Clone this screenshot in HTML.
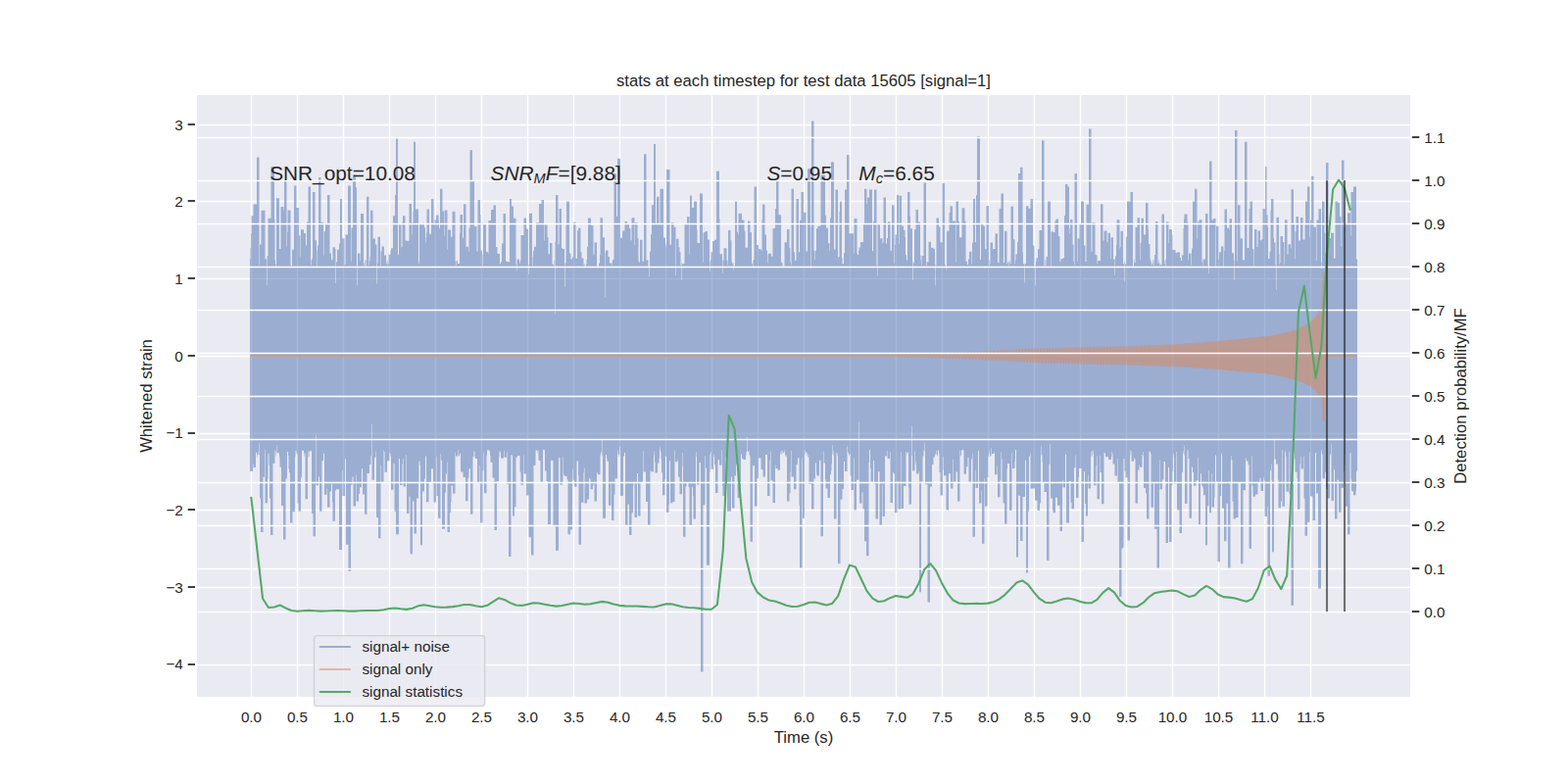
<!DOCTYPE html>
<html><head><meta charset="utf-8"><title>chart</title>
<style>html,body{margin:0;padding:0;background:#fff;font-family:"Liberation Sans",sans-serif;}
svg{display:block;position:absolute;left:0;top:0;width:1600px;height:800px;}
svg text{font-family:"Liberation Sans","DejaVu Sans",sans-serif;fill:#262626;}
.sr{position:absolute;left:0;top:0;width:1px;height:1px;overflow:hidden;clip:rect(0 0 0 0);clip-path:inset(50%);white-space:nowrap;color:transparent;font-size:1px;}</style></head>
<body>
<div class="sr"><h1>stats at each timestep for test data 15605 [signal=1]</h1>
<p>SNR_opt=10.08 &nbsp; SNR_MF=[9.88] &nbsp; S=0.95 &nbsp; M_c=6.65</p>
<p>Y axis (left): Whitened strain: -4 -3 -2 -1 0 1 2 3</p>
<p>Y axis (right): Detection probability/MF: 0.0 0.1 0.2 0.3 0.4 0.5 0.6 0.7 0.8 0.9 1.0 1.1</p>
<p>X axis: Time (s): 0.0 0.5 1.0 1.5 2.0 2.5 3.0 3.5 4.0 4.5 5.0 5.5 6.0 6.5 7.0 7.5 8.0 8.5 9.0 9.5 10.0 10.5 11.0 11.5</p>
<p>Legend: signal+ noise; signal only; signal statistics</p></div>
<svg width="1152pt" height="576pt" viewBox="0 0 1152 576" version="1.1">
 <defs>
  <style type="text/css">*{stroke-linejoin: round; stroke-linecap: butt}</style>
 </defs>
 <g id="figure_1">
  <g id="patch_1">
   <path d="M 0 576 L 1152 576 L 1152 0 L 0 0 z" style="fill: #ffffff"/>
  </g>
  <g id="axes_1">
   <g id="patch_2">
    <path d="M 144 512.64 L 1036.8 512.64 L 1036.8 69.12 L 144 69.12 z" style="fill: #eaeaf2"/>
   </g>
   <g id="matplotlib.axis_1">
    <g id="xtick_1">
     <path d="M 184.68 512.64 L 184.68 69.12" clip-path="url(#p44b01c5c57)" style="fill: none; stroke: #ffffff; stroke-linecap: round"/>
     <text x="184.68" y="530.5" font-size="11" text-anchor="middle">0.0</text>
    </g>
    <g id="xtick_2">
     <path d="M 218.52 512.64 L 218.52 69.12" clip-path="url(#p44b01c5c57)" style="fill: none; stroke: #ffffff; stroke-linecap: round"/>
     <text x="218.52" y="530.5" font-size="11" text-anchor="middle">0.5</text>
    </g>
    <g id="xtick_3">
     <path d="M 252.36 512.64 L 252.36 69.12" clip-path="url(#p44b01c5c57)" style="fill: none; stroke: #ffffff; stroke-linecap: round"/>
     <text x="252.36" y="530.5" font-size="11" text-anchor="middle">1.0</text>
    </g>
    <g id="xtick_4">
     <path d="M 286.2 512.64 L 286.2 69.12" clip-path="url(#p44b01c5c57)" style="fill: none; stroke: #ffffff; stroke-linecap: round"/>
     <text x="286.2" y="530.5" font-size="11" text-anchor="middle">1.5</text>
    </g>
    <g id="xtick_5">
     <path d="M 320.04 512.64 L 320.04 69.12" clip-path="url(#p44b01c5c57)" style="fill: none; stroke: #ffffff; stroke-linecap: round"/>
     <text x="320.04" y="530.5" font-size="11" text-anchor="middle">2.0</text>
    </g>
    <g id="xtick_6">
     <path d="M 353.88 512.64 L 353.88 69.12" clip-path="url(#p44b01c5c57)" style="fill: none; stroke: #ffffff; stroke-linecap: round"/>
     <text x="353.88" y="530.5" font-size="11" text-anchor="middle">2.5</text>
    </g>
    <g id="xtick_7">
     <path d="M 387.72 512.64 L 387.72 69.12" clip-path="url(#p44b01c5c57)" style="fill: none; stroke: #ffffff; stroke-linecap: round"/>
     <text x="387.72" y="530.5" font-size="11" text-anchor="middle">3.0</text>
    </g>
    <g id="xtick_8">
     <path d="M 421.56 512.64 L 421.56 69.12" clip-path="url(#p44b01c5c57)" style="fill: none; stroke: #ffffff; stroke-linecap: round"/>
     <text x="421.56" y="530.5" font-size="11" text-anchor="middle">3.5</text>
    </g>
    <g id="xtick_9">
     <path d="M 455.4 512.64 L 455.4 69.12" clip-path="url(#p44b01c5c57)" style="fill: none; stroke: #ffffff; stroke-linecap: round"/>
     <text x="455.4" y="530.5" font-size="11" text-anchor="middle">4.0</text>
    </g>
    <g id="xtick_10">
     <path d="M 489.24 512.64 L 489.24 69.12" clip-path="url(#p44b01c5c57)" style="fill: none; stroke: #ffffff; stroke-linecap: round"/>
     <text x="489.24" y="530.5" font-size="11" text-anchor="middle">4.5</text>
    </g>
    <g id="xtick_11">
     <path d="M 523.08 512.64 L 523.08 69.12" clip-path="url(#p44b01c5c57)" style="fill: none; stroke: #ffffff; stroke-linecap: round"/>
     <text x="523.08" y="530.5" font-size="11" text-anchor="middle">5.0</text>
    </g>
    <g id="xtick_12">
     <path d="M 556.92 512.64 L 556.92 69.12" clip-path="url(#p44b01c5c57)" style="fill: none; stroke: #ffffff; stroke-linecap: round"/>
     <text x="556.92" y="530.5" font-size="11" text-anchor="middle">5.5</text>
    </g>
    <g id="xtick_13">
     <path d="M 590.76 512.64 L 590.76 69.12" clip-path="url(#p44b01c5c57)" style="fill: none; stroke: #ffffff; stroke-linecap: round"/>
     <text x="590.76" y="530.5" font-size="11" text-anchor="middle">6.0</text>
    </g>
    <g id="xtick_14">
     <path d="M 624.6 512.64 L 624.6 69.12" clip-path="url(#p44b01c5c57)" style="fill: none; stroke: #ffffff; stroke-linecap: round"/>
     <text x="624.6" y="530.5" font-size="11" text-anchor="middle">6.5</text>
    </g>
    <g id="xtick_15">
     <path d="M 658.44 512.64 L 658.44 69.12" clip-path="url(#p44b01c5c57)" style="fill: none; stroke: #ffffff; stroke-linecap: round"/>
     <text x="658.44" y="530.5" font-size="11" text-anchor="middle">7.0</text>
    </g>
    <g id="xtick_16">
     <path d="M 692.28 512.64 L 692.28 69.12" clip-path="url(#p44b01c5c57)" style="fill: none; stroke: #ffffff; stroke-linecap: round"/>
     <text x="692.28" y="530.5" font-size="11" text-anchor="middle">7.5</text>
    </g>
    <g id="xtick_17">
     <path d="M 726.12 512.64 L 726.12 69.12" clip-path="url(#p44b01c5c57)" style="fill: none; stroke: #ffffff; stroke-linecap: round"/>
     <text x="726.12" y="530.5" font-size="11" text-anchor="middle">8.0</text>
    </g>
    <g id="xtick_18">
     <path d="M 759.96 512.64 L 759.96 69.12" clip-path="url(#p44b01c5c57)" style="fill: none; stroke: #ffffff; stroke-linecap: round"/>
     <text x="759.96" y="530.5" font-size="11" text-anchor="middle">8.5</text>
    </g>
    <g id="xtick_19">
     <path d="M 793.8 512.64 L 793.8 69.12" clip-path="url(#p44b01c5c57)" style="fill: none; stroke: #ffffff; stroke-linecap: round"/>
     <text x="793.8" y="530.5" font-size="11" text-anchor="middle">9.0</text>
    </g>
    <g id="xtick_20">
     <path d="M 827.64 512.64 L 827.64 69.12" clip-path="url(#p44b01c5c57)" style="fill: none; stroke: #ffffff; stroke-linecap: round"/>
     <text x="827.64" y="530.5" font-size="11" text-anchor="middle">9.5</text>
    </g>
    <g id="xtick_21">
     <path d="M 861.48 512.64 L 861.48 69.12" clip-path="url(#p44b01c5c57)" style="fill: none; stroke: #ffffff; stroke-linecap: round"/>
     <text x="861.48" y="530.5" font-size="11" text-anchor="middle">10.0</text>
    </g>
    <g id="xtick_22">
     <path d="M 895.32 512.64 L 895.32 69.12" clip-path="url(#p44b01c5c57)" style="fill: none; stroke: #ffffff; stroke-linecap: round"/>
     <text x="895.32" y="530.5" font-size="11" text-anchor="middle">10.5</text>
    </g>
    <g id="xtick_23">
     <path d="M 929.16 512.64 L 929.16 69.12" clip-path="url(#p44b01c5c57)" style="fill: none; stroke: #ffffff; stroke-linecap: round"/>
     <text x="929.16" y="530.5" font-size="11" text-anchor="middle">11.0</text>
    </g>
    <g id="xtick_24">
     <path d="M 963 512.64 L 963 69.12" clip-path="url(#p44b01c5c57)" style="fill: none; stroke: #ffffff; stroke-linecap: round"/>
     <text x="963" y="530.5" font-size="11" text-anchor="middle">11.5</text>
    </g>
    <g id="text_25">
     <text x="590.4" y="545.9" font-size="12" text-anchor="middle">Time (s)</text>
    </g>
   </g>
   <g id="matplotlib.axis_2">
    <g id="ytick_1">
     <path d="M 144 488.52 L 1036.8 488.52" clip-path="url(#p44b01c5c57)" style="fill: none; stroke: #ffffff; stroke-linecap: round"/>
     <g id="line2d_26">
      <defs>
       <path id="mf97215196e" d="M 0 0 L -6 0" style="stroke: #262626; stroke-width: 1.25"/>
      </defs>
      <g>
       <use href="#mf97215196e" x="144.0000" y="488.1600" style="fill: #262626; stroke: #262626; stroke-width: 1.25"/>
      </g>
     </g>
     <text x="134.5" y="492.09" font-size="11" text-anchor="end">−4</text>
    </g>
    <g id="ytick_2">
     <path d="M 144 431.64 L 1036.8 431.64" clip-path="url(#p44b01c5c57)" style="fill: none; stroke: #ffffff; stroke-linecap: round"/>
     <g><use href="#mf97215196e" x="144.0000" y="431.2800" style="fill: #262626; stroke: #262626; stroke-width: 1.25"/></g>
     <text x="134.5" y="435.42" font-size="11" text-anchor="end">−3</text>
    </g>
    <g id="ytick_3">
     <path d="M 144 374.76 L 1036.8 374.76" clip-path="url(#p44b01c5c57)" style="fill: none; stroke: #ffffff; stroke-linecap: round"/>
     <g><use href="#mf97215196e" x="144.0000" y="374.4000" style="fill: #262626; stroke: #262626; stroke-width: 1.25"/></g>
     <text x="134.5" y="378.76" font-size="11" text-anchor="end">−2</text>
    </g>
    <g id="ytick_4">
     <path d="M 144 318.6 L 1036.8 318.6" clip-path="url(#p44b01c5c57)" style="fill: none; stroke: #ffffff; stroke-linecap: round"/>
     <g><use href="#mf97215196e" x="144.0000" y="318.2400" style="fill: #262626; stroke: #262626; stroke-width: 1.25"/></g>
     <text x="134.5" y="322.1" font-size="11" text-anchor="end">−1</text>
    </g>
    <g id="ytick_5">
     <path d="M 144 261.72 L 1036.8 261.72" clip-path="url(#p44b01c5c57)" style="fill: none; stroke: #ffffff; stroke-linecap: round"/>
     <g><use href="#mf97215196e" x="144.0000" y="261.3600" style="fill: #262626; stroke: #262626; stroke-width: 1.25"/></g>
     <text x="134.5" y="265.43" font-size="11" text-anchor="end">0</text>
    </g>
    <g id="ytick_6">
     <path d="M 144 204.84 L 1036.8 204.84" clip-path="url(#p44b01c5c57)" style="fill: none; stroke: #ffffff; stroke-linecap: round"/>
     <g><use href="#mf97215196e" x="144.0000" y="204.4800" style="fill: #262626; stroke: #262626; stroke-width: 1.25"/></g>
     <text x="134.5" y="208.77" font-size="11" text-anchor="end">1</text>
    </g>
    <g id="ytick_7">
     <path d="M 144 147.96 L 1036.8 147.96" clip-path="url(#p44b01c5c57)" style="fill: none; stroke: #ffffff; stroke-linecap: round"/>
     <g><use href="#mf97215196e" x="144.0000" y="147.6000" style="fill: #262626; stroke: #262626; stroke-width: 1.25"/></g>
     <text x="134.5" y="152.1" font-size="11" text-anchor="end">2</text>
    </g>
    <g id="ytick_8">
     <path d="M 144 91.8 L 1036.8 91.8" clip-path="url(#p44b01c5c57)" style="fill: none; stroke: #ffffff; stroke-linecap: round"/>
     <g><use href="#mf97215196e" x="144.0000" y="91.4400" style="fill: #262626; stroke: #262626; stroke-width: 1.25"/></g>
     <text x="134.5" y="95.44" font-size="11" text-anchor="end">3</text>
    </g>
    <g id="text_34">
     <text font-size="12" text-anchor="middle" transform="translate(111.79 290.88) rotate(-90)">Whitened strain</text>
    </g>
   </g>
   <g id="FillBetweenPolyCollection_1">
    <defs>
     <path id="m8ecf6c62fd" d="M183.6-385.8V-229.8H183.96V-229.7H185.76V-235.3H186.12V-232.5H187.92V-243.5H188.64V-240H189V-242H189.36V-241.8H189.72V-243.7H190.08V-241.8H190.44V-250.4H190.8V-209.8H191.52V-185.1H193.32V-225.6H194.4V-245.6H194.76V-206.4H196.56V-224.2H196.92V-242.8H197.64V-234.3H198V-209.7H198.72V-182.9H200.52V-235.6H201.96V-245.3H202.32V-244.4H202.68V-240.8H203.04V-243.2H203.4V-249H203.76V-243.2H205.2V-240.1H205.56V-232.7H206.64V-204.4H208.08V-179.7H209.88V-224.1H210.6V-225H210.96V-244H211.68V-241.3H212.04V-231.6H212.4V-228.8H213.12V-191.9H214.92V-199.9H216.72V-245H217.08V-240.7H217.44V-244.8H217.8V-243.1H218.16V-242.3H218.52V-206.1H219.24V-200.4H221.04V-225.2H221.76V-244.9H223.2V-243.2H223.56V-240.6H223.92V-243H224.28V-209.3H226.08V-240.1H226.44V-244.1H226.8V-240.5H227.16V-244.7H228.96V-198.7H230.04V-182H231.84V-256.6H232.2V-219.4H234V-225.7H234.72V-200.4H236.52V-237.5H237.6V-242.8H238.32V-212.5H240.12V-217.1H240.48V-203.3H242.28V-214.9H243.36V-220.3H244.08V-207H244.44V-193.1H246.24V-215.6H246.96V-216.6H249.12V-172.1H251.28V-230.4H251.64V-211.6H253.44V-238.8H254.16V-175.8H255.96V-156.5H257.76V-219.7H258.84V-225.7H259.56V-204.2H261.36V-227.1H261.72V-207.8H263.52V-213.2H264.24V-218H265.68V-231.9H266.4V-212.7H267.84V-198.2H269.64V-228.2H271.44V-234.7H272.52V-241.1H272.88V-264.3H273.24V-223.4H275.04V-239.7H276.12V-244.4H276.48V-195.9H277.92V-180.6H279.72V-234.1H280.08V-221.9H281.88V-245.1H282.24V-244.1H282.6V-229.2H284.4V-237.5H286.2V-243.2H286.56V-242.5H286.92V-240.7H287.28V-216.2H289.08V-235.5H289.8V-200.4H290.88V-183.4H293.04V-239H293.76V-219.6H295.56V-235.2H295.92V-239H296.28V-218.5H298.08V-221.1H298.44V-241.9H298.8V-198.7H300.6V-211.3H301.32V-169H303.12V-207.7H304.2V-184H306V-209.9H307.44V-221.8H307.8V-237.3H308.52V-234H308.88V-175.5H310.32V-214.9H311.76V-224.3H312.48V-240.5H312.84V-241.3H313.2V-207.1H315V-221.4H316.8V-231.5H318.24V-219.9H318.6V-207H320.4V-240.7H320.76V-211.6H321.84V-195.3H323.64V-242.6H324V-237.8H324.72V-187.4H326.88V-214.2H327.6V-227.9H328.32V-236.3H328.68V-185.1H330.48V-199.4H331.2V-207.2H331.56V-219.3H332.64V-213.5H334.44V-243.8H334.8V-241.2H335.16V-240.9H335.52V-240H335.88V-240.9H336.24V-245.3H336.6V-241.5H336.96V-241H337.32V-240.7H337.68V-242.8H338.4V-229.4H340.2V-225.3H342V-207.9H343.8V-224.9H344.52V-231.5H345.24V-231.9H345.6V-198.2H347.4V-240.5H347.76V-244.7H348.12V-240.2H348.48V-240H348.84V-244.1H349.2V-239.1H350.64V-220.9H352.44V-234H352.8V-191.9H354.6V-230.4H355.32V-243.6H355.68V-213.7H357.48V-241.4H357.84V-245.3H359.28V-244.4H359.64V-245.1H360V-241.5H360.36V-236.3H361.8V-225H363.24V-186.5H365.04V-222.4H366.48V-244.5H366.84V-240.2H367.2V-243.4H367.56V-244.6H367.92V-239.4H369.72V-239.5H370.08V-245H370.44V-239.9H372.24V-244H372.6V-220.1H373.68V-167H375.48V-241.9H376.2V-241.1H376.56V-197H378V-203.6H379.08V-239.9H380.16V-241.2H381.96V-229.3H382.68V-219.8H384.48V-241.6H384.84V-227.9H386.64V-212.1H388.44V-181.2H390.24V-168.1H392.04V-234H393.48V-245.1H394.92V-243H395.28V-244.9H395.64V-237.6H397.08V-221.9H398.88V-245.5H400.32V-230H401.4V-222.5H402.48V-190.8H404.64V-237.7H406.44V-189.1H408.24V-171.5H410.4V-239.6H411.48V-219.8H413.28V-221.3H413.64V-240.3H414V-227.2H414.72V-226.2H415.08V-226H416.52V-223.7H417.24V-183.4H419.04V-186.8H420.48V-231.7H420.84V-223.5H421.2V-222.8H421.92V-218.4H423.72V-237.3H424.8V-226.8H425.16V-175.8H426.96V-206.8H428.76V-229.1H429.12V-232.2H429.48V-206.2H431.28V-209.1H432.72V-224.4H433.8V-216.6H435.6V-219.6H435.96V-220.4H436.68V-207.8H438.48V-228.6H439.2V-227.4H441V-241.6H441.36V-243.1H441.72V-244.1H442.08V-240.7H442.44V-252.7H442.8V-195.3H444.96V-242H445.68V-239.2H446.04V-237.1H447.12V-204.7H448.92V-220.8H449.28V-193.6H451.08V-212.5H451.8V-224.5H453.6V-242.5H453.96V-245.2H454.32V-242.3H454.68V-240.3H455.04V-247.9H455.4V-241.7H455.76V-211.6H457.56V-212.1H457.92V-240.5H458.28V-241H458.64V-243.1H459V-243.6H459.36V-190.2H461.16V-205.5H462.24V-182.9H464.04V-199.2H465.12V-219.5H465.48V-221.7H466.2V-195.9H468V-228.3H468.72V-197H470.52V-221H472.32V-244.6H472.68V-229.3H474.48V-207.3H475.92V-190.2H477.72V-230.1H478.44V-229.5H480.24V-241.3H480.6V-244.2H480.96V-236.7H481.32V-228.6H483.12V-235.8H484.2V-239.4H484.56V-245.6H484.92V-248.1H485.28V-244.3H485.64V-238.7H486V-228.7H486.72V-212.2H488.52V-223.7H488.88V-240.9H489.24V-240.4H489.6V-199.4H491.4V-205.2H491.76V-237.4H492.48V-206.5H494.28V-207.3H495.72V-245H496.08V-236.7H497.88V-238.4H498.24V-225.6H499.32V-213H501.12V-233H501.48V-243.4H501.84V-181.7H503.64V-218.6H504.36V-221.8H505.8V-218.2H506.52V-189.7H508.32V-218H509.04V-211.6H509.4V-194.8H511.2V-243.7H511.56V-240.4H511.92V-220H513.72V-236.2H514.8V-82.4H516.6V-205H518.04V-240.9H518.4V-232H519.12V-160.7H521.28V-229.2H521.64V-242.2H522V-244.2H522.36V-231.3H524.16V-242.1H524.52V-240.5H524.88V-234.5H525.6V-213.9H527.4V-238.2H528.48V-234.1H530.28V-245.3H530.64V-219H531V-211.7H532.8V-240.3H533.16V-221.1H534.24V-200.4H537.12V-225.7H537.84V-202.7H539.64V-226.5H540.72V-234.9H541.44V-238H541.8V-210.3H543.6V-213.2H544.32V-242.2H545.04V-239.2H546.12V-238.3H547.92V-241.3H548.28V-244.3H548.64V-255H549V-244.6H549.36V-244.1H550.08V-244.8H550.44V-241.8H550.8V-240.8H551.16V-178H552.96V-233.8H554.4V-204.1H556.2V-224.6H557.28V-239.4H559.08V-231.2H560.52V-225.7H562.32V-241.9H563.76V-211.7H565.56V-237.7H565.92V-244.5H566.28V-223H567.72V-206.6H569.52V-234.4H569.88V-231.9H571.32V-230.6H573.12V-243.9H573.48V-242H573.84V-245H574.2V-242.3H574.56V-242.8H574.92V-245H575.28V-243.1H575.64V-243.5H576V-245.2H576.36V-243.8H576.72V-242H577.08V-240.7H577.44V-240.2H577.8V-241.4H578.16V-207.8H579.96V-213.7H580.68V-229.2H581.04V-244.8H581.4V-225.7H583.2V-216.5H585V-234.5H585.72V-235.1H586.08V-239.5H587.16V-204.7H587.52V-158.7H589.32V-239.4H589.68V-195.3H591.12V-241.9H591.48V-245.1H591.84V-243.9H592.2V-243.2H592.56V-241.1H592.92V-243.6H593.28V-242.1H593.64V-240H594V-240.3H594.36V-220.3H596.16V-202H597.96V-224.3H599.04V-236H599.76V-227.7H600.12V-226.5H601.92V-237.8H603V-182H604.8V-244.4H605.16V-235.8H606.24V-224H606.6V-217.1H608.04V-210.2H609.84V-227.3H610.56V-230.1H610.92V-235.2H611.28V-248.9H611.64V-242.3H612V-241.4H612.36V-244.4H612.72V-194.8H614.52V-243.4H614.88V-243H615.24V-241.2H615.6V-161.9H617.4V-209.2H618.84V-216.8H619.92V-236.9H620.64V-229.7H622.44V-248.3H622.8V-243.6H623.16V-243.5H623.52V-240.8H623.88V-241.9H624.24V-242.6H624.6V-226.5H625.32V-216H627.12V-239.4H627.48V-201.2H629.28V-223.4H631.08V-266H631.44V-206.2H633.24V-214.4H633.96V-202.1H635.04V-178.3H636.48V-167.5H638.28V-236.2H638.64V-245.6H639.36V-231.9H639.72V-222H641.52V-237.8H642.24V-220.5H643.32V-194.8H645.12V-229.5H646.2V-190.2H648V-219.7H648.36V-196.5H650.16V-240.9H651.6V-244.7H651.96V-239.1H653.76V-243.7H654.12V-206.6H655.92V-228.8H656.64V-227.8H657.36V-199.3H659.16V-222.5H659.88V-202H661.68V-243.7H662.04V-202.3H663.84V-218.9H665.64V-244.1H666V-241.7H666.36V-243.5H667.44V-217.9H667.8V-205.6H669.6V-241H669.96V-263.2H670.32V-230.3H672.12V-244.4H672.48V-237H672.84V-234.3H673.2V-227.8H675V-229.9H675.36V-140.9H676.8V-222.2H677.88V-240.9H678.24V-245.1H678.6V-240.8H678.96V-250.6H679.32V-244.5H679.68V-220.2H681.48V-133.5H683.28V-218.4H684.72V-234.8H685.8V-240.2H686.88V-241.5H687.24V-242.9H687.6V-245.2H687.96V-242.1H688.32V-240.9H688.68V-241.5H689.04V-245.3H689.76V-242.7H690.12V-229H690.84V-212H692.64V-240.4H693V-230.9H693.36V-226.6H695.16V-201.3H696.96V-228H698.4V-217.1H700.2V-238.5H700.56V-222.2H702.36V-229.3H703.44V-207.8H705.24V-245.4H705.6V-241.8H705.96V-240.7H706.32V-245.4H708.12V-227.7H709.92V-233.1H711V-239.7H711.72V-222H713.52V-238.6H714.24V-242.8H714.6V-181.7H716.4V-230.8H716.76V-217.5H718.56V-244.6H718.92V-245H719.28V-206.2H721.08V-215.6H721.44V-176.6H723.24V-224.4H723.6V-204.2H725.4V-225.4H726.12V-240.7H726.48V-242.5H726.84V-245.4H727.2V-240.5H727.56V-240.9H727.92V-246.6H728.28V-241.2H728.64V-242.6H730.44V-243.9H730.8V-227.3H732.6V-233.5H732.96V-210.8H734.76V-223H735.48V-243.7H735.84V-238.8H736.2V-220.7H736.92V-206.4H738V-191.1H739.8V-231.7H740.16V-235.4H741.6V-200.8H743.4V-243.4H743.76V-231.9H745.56V-237.1H745.92V-245.5H746.64V-166.7H748.08V-211.8H749.52V-178.6H751.32V-211H753.12V-237.7H753.84V-155.1H755.28V-200.3H756V-240.7H756.72V-243H757.08V-217.1H758.52V-217H760.32V-208.5H762.12V-200.8H763.92V-206.3H764.64V-248.4H765V-241.8H765.72V-236.6H766.08V-221H767.16V-214.5H768.96V-164.1H770.76V-235H771.48V-249.8H771.84V-209.9H773.28V-201.1H773.64V-199.3H775.44V-210.4H776.88V-204.6H778.68V-185.7H780.48V-223.3H780.84V-217.8H782.64V-242.2H783V-241.9H783.36V-191.9H785.52V-222.6H786.6V-206.8H787.32V-202.1H789.12V-232.3H790.2V-241.5H790.56V-210.2H792.36V-225.4H792.72V-231.9H794.52V-177.8H796.32V-229.6H797.04V-206H797.76V-197H799.2V-226.9H799.56V-217.1H801.36V-243.9H801.72V-240.8H802.08V-240.9H802.44V-245.1H802.8V-242.2H803.16V-244.8H803.52V-219.5H805.32V-234.1H805.68V-240.8H806.04V-209.4H807.84V-241.3H808.2V-228.9H809.28V-205.7H811.08V-243.5H811.44V-243H812.16V-240.3H813.96V-240.9H814.32V-238.4H816.12V-238.5H816.48V-240.5H816.84V-244.1H817.2V-242.9H817.56V-235H819V-226.4H820.8V-239.1H821.16V-221.6H822.24V-137.5H824.04V-173.2H825.12V-173.9H825.48V-239.1H826.2V-229.9H826.92V-225.1H828.36V-178.9H830.16V-241.3H830.52V-245.3H830.88V-244.4H831.24V-237H833.04V-239.6H833.4V-238.6H834.12V-206.3H835.92V-230.5H837V-234.6H837.36V-232.8H839.16V-242H839.52V-244H839.88V-240.9H840.24V-217.4H841.68V-213.5H842.4V-194.8H844.2V-244.2H844.92V-244.3H845.28V-242.8H845.64V-203.2H847.44V-221H848.16V-187.4H849.96V-158.5H851.76V-238H852.12V-216.5H853.92V-223.5H855V-236.9H856.08V-222.1H856.44V-177.2H858.24V-232.6H858.96V-177.8H860.76V-219.5H861.48V-229.9H861.84V-240.6H862.2V-242.8H862.56V-220.6H864.36V-244.3H864.72V-201.2H866.52V-184.3H868.32V-228.9H869.04V-242.9H869.4V-244.8H869.76V-248.6H870.12V-241.5H870.48V-205.9H872.28V-245.3H873V-239H873.72V-195.3H875.52V-233H876.24V-229H876.96V-219H878.76V-223H880.2V-240H880.56V-190.8H882V-228H882.72V-219.5H883.44V-218H884.16V-212.2H885.6V-175.5H887.04V-204.3H888.12V-230.6H888.48V-199.3H889.92V-228.1H890.28V-203.4H892.08V-210.2H892.44V-220.5H892.8V-242H893.16V-241.1H893.52V-222.2H894.6V-163.3H896.4V-211.7H897.12V-241.7H897.48V-243.4H897.84V-202.6H899.28V-178.3H901.08V-206.1H902.16V-158.5H903.96V-222.1H904.32V-241H904.68V-237.9H905.4V-207.5H906.12V-194.8H907.92V-195.9H909.72V-221.2H911.52V-161.9H913.32V-215.8H915.12V-239.7H915.48V-237.2H916.92V-234.5H917.64V-172.9H919.44V-241.1H919.8V-219.1H920.52V-211.1H922.32V-212.7H924.12V-221.3H925.56V-224.9H926.28V-215.2H928.08V-225.1H928.44V-222.8H929.16V-196.5H930.96V-203.8H931.32V-152.8H933.12V-230.3H933.84V-234.9H934.2V-222.9H934.56V-170.4H936V-253.6H936.36V-238.6H937.44V-235H938.88V-223.6H939.24V-202.8H941.04V-207.7H941.76V-245.4H942.12V-204H943.92V-243.4H944.28V-245.2H944.64V-240.7H945V-214.7H946.8V-244.2H947.16V-212.9H948.6V-131.2H950.4V-242.9H950.76V-245.1H951.12V-238.9H951.48V-229.3H952.92V-225H953.28V-201.7H955.08V-235.3H955.44V-240.7H955.8V-231.5H957.6V-240.7H957.96V-209.7H958.68V-182.3H960.48V-192.5H962.28V-243.7H962.64V-211.3H964.44V-193.6H966.24V-243.1H966.6V-243.3H966.96V-213.5H968.4V-143.7H970.56V-245.3H970.92V-243.5H971.28V-242H971.64V-224.4H973.44V-229.2H974.16V-216.7H975.24V-209.8H977.04V-241.3H977.4V-242.5H977.76V-249.6H978.12V-208.1H979.92V-230.9H980.64V-194.8H982.44V-223.4H983.52V-199.6H985.32V-217.6H987.12V-229.5H987.84V-234.5H988.2V-242.2H988.56V-203.9H990V-183.4H991.8V-243H992.52V-223.8H992.88V-215.3H993.6V-214.9H994.32V-212.2H996.12V-215.9H996.48V-229.8H997.2V-385.6H996.48V-438.9H994.32V-434.9H992.52V-402.8H992.16V-419.6H990V-411.5H988.2V-409.2H987.48V-458.2H985.68V-395H985.32V-416.9H984.24V-427H982.8V-428.1H981V-386.1H979.92V-404.9H977.76V-401.1H975.96V-456.5H974.16V-390.4H973.8V-404.9H973.08V-428.1H971.28V-383.6H970.92V-378.6H970.56V-422.5H968.76V-414.3H967.32V-384.5H966.96V-409.1H965.16V-446.6H963.36V-414.3H962.64V-401.5H962.28V-438.9H960.48V-428.1H959.04V-410.6H958.68V-400H957.24V-416.2H955.44V-399.3H954V-416.8H952.2V-406.1H951.48V-385.8H951.12V-412.1H950.4V-436.9H948.6V-393.5H948.24V-396.5H946.44V-389.2H945.72V-414.6H943.92V-381.5H943.56V-398.2H942.48V-402.4H940.68V-383.1H940.32V-382H939.96V-389.6H939.6V-416.4H937.8V-363H937.44V-381.4H937.08V-397.8H936V-401.2H935.64V-429.8H933.84V-421.3H933.48V-391.1H932.76V-385.9H931.68V-409.4H931.32V-418.2H930.6V-453.6H929.52V-422.7H927.72V-400.3H927V-399.4H925.92V-406.5H924.12V-394.5H923.4V-407.5H921.6V-379.5H921.24V-393H920.16V-428.1H918.36V-422.6H917.64V-393.9H916.2V-471.8H914.4V-385.1H912.96V-400.8H911.16V-425.4H909.36V-384.2H909V-480.3H907.2V-370.4H906.84V-384.7H906.48V-390H905.04V-415.3H903.24V-407.1H902.88V-408.5H901.44V-422.2H899.64V-391.6H899.28V-379.1H898.92V-394.9H897.12V-390.8H895.68V-385.4H895.32V-409.8H893.52V-380.4H893.16V-415.5H891.36V-414.3H890.28V-457.6H888.48V-380.1H888.12V-375H887.76V-381H887.4V-419H885.6V-385.5H883.8V-381H883.44V-383.8H883.08V-414.5H880.92V-412.9H879.84V-400.1H879.48V-437.2H877.68V-428.1H876.24V-393.4H875.52V-381H875.16V-389.9H873.36V-385.2H873V-412.8H872.28V-418.6H870.12V-415.1H869.76V-408.2H869.4V-388.7H868.32V-384.5H867.6V-386.7H866.88V-390.8H865.08V-390.2H863.64V-392.4H861.48V-403.4H861.12V-406.5H860.76V-407.6H858.96V-397.4H858.6V-412.9H856.8V-385.6H856.44V-380H856.08V-384.4H855.72V-382.2H855.36V-418.7H853.56V-381.3H853.2V-381.9H852.84V-381.3H852.48V-382.8H852.12V-380.7H851.76V-384.9H851.4V-382.6H850.68V-413.3H848.88V-388.8H848.16V-380.7H847.8V-385.4H847.44V-382.7H847.08V-384.9H846.72V-381.7H846.36V-381.4H846V-384.5H845.64V-383.1H845.28V-385.8H844.92V-396.8H843.84V-407.9H843.48V-427H841.68V-403.6H840.24V-415.7H838.44V-397.7H837.72V-385H837.36V-415.9H835.56V-408.9H834.12V-383.1H833.76V-382.8H833.4V-385.3H833.04V-380.1H832.32V-434.9H830.52V-428.1H828V-402.1H827.28V-382.4H826.92V-381.8H826.56V-369.2H826.2V-383.8H825.84V-382.1H825.48V-382.3H825.12V-406.3H823.32V-394.3H822.96V-393.5H822.6V-414.6H820.44V-396.1H820.08V-387.8H819.36V-373.7H819V-385.5H817.92V-401.5H816.12V-385.7H815.76V-404.9H813.96V-398H813.24V-406.5H811.08V-399.2H810.36V-426.1H808.56V-384.5H806.76V-384.1H806.4V-382.2H806.04V-388.7H805.68V-388.8H804.6V-412.5H802.44V-391.2H801.72V-481.4H799.92V-425.7H798.12V-383.8H797.4V-395.7H796.32V-428.1H794.16V-411.5H793.08V-400.8H791.64V-384H791.28V-448.5H789.48V-381.4H789.12V-383.8H788.76V-396.4H788.04V-414.7H786.24V-404.2H785.88V-408.5H785.52V-438.9H784.44V-440.6H782.64V-417.5H781.92V-386.6H781.2V-386H779.4V-383.7H778.68V-402.5H777.6V-415.1H775.8V-413.8H775.08V-405.3H774V-405.9H772.2V-380.3H771.84V-428.1H769.68V-387.3H768.6V-380.7H768.24V-385.1H767.88V-380.8H767.52V-380.1H767.16V-472.9H765.36V-406.8H763.56V-392.9H762.48V-386.5H761.4V-383.9H761.04V-381.2H760.68V-366.1H760.32V-380.3H759.96V-395.1H759.6V-395.9H758.88V-429.8H757.08V-422.9H755.64V-424.7H753.84V-382.2H752.76V-368.2H752.4V-382.2H751.68V-390.6H751.32V-453.1H749.52V-448.5H748.08V-398.2H747.36V-389.4H746.28V-384.9H745.92V-382H745.56V-400.2H744.48V-424.5H742.68V-382.1H742.32V-382.6H741.96V-384.6H741.6V-384.2H741.24V-380.5H740.88V-382.8H740.52V-383.5H740.16V-381.7H739.8V-406.3H738V-383H737.28V-433.8H735.48V-422.9H734.04V-383H732.96V-404.2H731.16V-393.2H729.72V-393H729.36V-397.8H727.56V-382.2H727.2V-380.5H726.84V-385.1H726.48V-424.8H724.68V-393.2H723.6V-409.9H722.52V-411.6H720.72V-385.2H720V-475.8H717.84V-432.7H717.12V-397.9H716.4V-429.8H714.96V-397.7H714.24V-382H713.88V-391.2H712.08V-385.7H711.36V-381.6H710.64V-384H709.56V-413.6H708.84V-423.2H706.68V-401.6H704.88V-413.1H704.16V-428.1H702.36V-383.3H702V-413.7H699.84V-424.6H698.04V-419.7H697.32V-406.2H695.52V-380.3H695.16V-377.7H694.8V-380.9H694.44V-382H694.08V-441.4H692.28V-397.9H690.84V-409.4H689.76V-415.8H687.96V-381H687.6V-366.3H687.24V-381.8H686.88V-393.1H685.8V-393.8H685.44V-394H684V-398.4H682.2V-383.5H680.76V-380.8H680.4V-441.7H678.6V-388H677.16V-381.1H676.8V-385.1H676.44V-388.7H676.08V-413H674.64V-421.9H672.84V-407.4H671.76V-382.5H671.4V-383H671.04V-370.4H670.68V-383.8H670.32V-408H668.88V-417.1H668.52V-434.9H666.72V-384.8H666V-388.8H665.28V-401.8H664.92V-406.9H663.84V-410.1H662.4V-432.1H660.6V-396.8H660.24V-432.7H658.8V-403.8H657.72V-396H657.36V-382.5H657V-425.2H655.2V-391.8H654.12V-413.1H652.32V-401H651.6V-397.1H650.88V-430.9H649.08V-397.6H648.36V-400.8H646.56V-411.4H644.76V-373.3H644.4V-381.3H644.04V-436.6H642.24V-413.5H641.52V-391.7H640.8V-436.6H638.64V-430.9H637.2V-426.1H636.84V-437.2H635.04V-411.4H634.32V-398.2H632.16V-394.2H631.08V-391.7H630.72V-388.8H630V-389.7H629.64V-415.4H627.48V-389.9H627.12V-404.5H624.96V-404.4H623.88V-462.2H622.08V-436.6H620.64V-390H619.92V-382.1H618.84V-386.2H618.48V-428.1H617.04V-420.4H616.68V-387.2H615.6V-436.6H613.8V-392.7H612.72V-457H610.56V-416H609.84V-391.7H609.48V-397.4H608.4V-408.4H606.96V-417.8H606.24V-447.4H603V-409.8H600.84V-408.1H599.76V-391.8H598.68V-385.2H598.32V-391.7H597.96V-487.1H596.16V-378.5H595.8V-409.4H595.44V-451.9H593.28V-391.3H592.2V-419.9H590.4V-434.9H588.6V-414.2H587.52V-390.7H586.8V-429.8H585V-384.7H583.92V-390.7H583.2V-437.2H581.4V-381.3H581.04V-383.4H580.68V-393.6H579.96V-407.6H578.16V-397.9H576.36V-380.3H574.92V-383.1H574.56V-382.9H574.2V-384H573.84V-418.1H572.04V-442.9H570.24V-422.7H569.52V-408.2H567.72V-387.7H566.64V-389.7H564.48V-388.6H564.12V-382.7H563.76V-392H563.04V-403.6H561.96V-425.9H560.16V-414.4H559.8V-391.8H559.08V-393.2H557.28V-396H555.84V-438.9H554.04V-385.3H553.68V-380H553.32V-384.6H552.96V-382.6H552.6V-382.2H552.24V-405.4H551.16V-413.6H549.36V-394.1H547.56V-406.5H546.84V-414.4H545.04V-419.3H543.24V-419H542.52V-403.6H542.16V-405.6H541.44V-428.1H540V-380.8H539.28V-377.6H538.92V-382.7H538.56V-381.7H538.2V-382.9H537.84V-384H537.48V-399.4H536.76V-406.8H534.96V-384.8H534.6V-381.2H534.24V-384.6H533.88V-393.6H531.72V-384.9H531V-375.3H530.64V-389.4H528.84V-415.2H528.48V-450.2H526.32V-399.7H524.88V-398.9H523.44V-390.7H522.36V-385.2H522V-376.6H521.64V-383.8H521.28V-400H519.84V-406H518.04V-405.1H516.6V-383.3H516.24V-433.8H514.08V-397.4H512.28V-407.4H511.92V-428.1H509.76V-423.3H508.32V-432.1H506.88V-389.2H506.52V-416.9H504.72V-411.2H502.92V-382.1H501.48V-381.9H501.12V-370.2H500.76V-383.3H500.4V-381.1H500.04V-391H499.32V-394.3H498.6V-400.5H496.8V-373.6H496.44V-409.3H495V-412.5H493.2V-396.1H492.12V-451.4H489.6V-394.7H489.24V-397.1H488.88V-401.4H487.44V-437.2H484.92V-411.8H484.2V-431.5H482.4V-411.1H481.68V-470.1H480.24V-425.3H478.8V-403.7H478.08V-391.2H477.36V-372.6H477V-380.1H476.64V-379.9H476.28V-384.8H474.84V-462.7H473.04V-384.1H471.96V-399.7H470.16V-383.8H469.8V-382.8H469.44V-384.1H469.08V-401.1H468.36V-412.6H466.56V-396.1H466.2V-415.9H464.04V-399.4H463.32V-408.3H462.24V-411.5H460.8V-413.3H459V-406.4H457.2V-401.2H455.76V-459.6H453.6V-417.1H452.88V-448.3H451.08V-385.2H450V-383.2H449.64V-381.3H449.28V-382.6H447.84V-387.3H446.76V-392H444.96V-357.5H444.6V-390.6H444.24V-401.6H442.8V-415.9H441V-388.8H440.64V-382.5H440.28V-382.6H439.92V-380.4H438.48V-397.8H436.68V-389.4H436.32V-388.6H435.96V-410.4H434.16V-415.8H432V-394.8H431.28V-385.2H430.92V-381.8H430.56V-381H430.2V-379.9H429.84V-380.2H429.48V-382.4H429.12V-381.5H428.76V-386.3H427.32V-390.7H426.6V-408.4H424.8V-406.7H424.08V-386.1H423V-412.8H421.2V-387.1H420.48V-385.6H419.4V-389.9H418.32V-428.1H416.16V-410.9H415.8V-382.9H415.44V-365.3H415.08V-382.7H414.72V-393.2H413.28V-393.7H412.56V-422.7H410.76V-396.5H410.04V-432.7H408.24V-398.4H407.88V-345H407.52V-380.7H407.16V-384.6H406.8V-381.8H405.72V-397.5H403.92V-389.3H402.84V-401.5H402.12V-411H399.96V-399.1H399.6V-429.2H397.8V-426.3H396V-412.6H393.84V-394.7H392.4V-391.8H391.68V-380.8H391.32V-387.3H390.96V-419.3H388.8V-374.4H388.44V-381.8H388.08V-407.8H386.64V-415.8H384.84V-403.2H382.68V-385.2H382.32V-383.5H381.96V-382.3H381.6V-385.5H379.8V-376.9H379.44V-381.7H379.08V-415.6H377.28V-424.5H375.84V-429.8H374.4V-383H374.04V-383.7H372.24V-384.2H371.52V-419.1H369.72V-397H368.64V-383.7H367.92V-382.2H367.2V-389.6H365.4V-394.6H364.32V-425.2H362.52V-421.9H360.72V-414H358.92V-389.9H358.56V-391H357.12V-412.1H354.96V-380.6H354.6V-389.2H354.24V-392H353.16V-418.2H352.8V-429.2H351V-391.4H350.28V-409.7H348.48V-442.9H347.04V-465.6H345.24V-408.5H344.52V-391.1H344.16V-394.7H342.36V-426.1H340.56V-401.3H339.84V-418.4H338.04V-404.9H337.68V-382.3H336.24V-384.7H335.88V-384H335.52V-380.8H335.16V-384.5H334.8V-384H334.44V-420.7H332.28V-401.9H331.2V-407.2H329.04V-392.7H328.68V-421.5H326.52V-402.9H326.16V-420.9H325.08V-437.2H323.28V-408.4H322.56V-413.5H322.2V-418H320.4V-414.6H319.32V-411.8H318.6V-429.8H316.8V-404.1H315.36V-422.2H313.56V-405H313.2V-397.8H312.84V-401.7H312.48V-408.7H311.76V-412H309.96V-411.7H308.16V-384H307.8V-382.1H307.44V-422.3H305.28V-471.8H303.84V-421.1H303.48V-412.3H302.76V-403.4H302.4V-426.2H300.6V-399.2H300.24V-398.9H299.16V-399.2H297.72V-417.5H295.92V-413.1H295.56V-394.5H294.84V-410.9H293.04V-389H292.32V-474.1H290.88V-432.7H290.16V-417.5H288.72V-393.6H287.28V-391.9H286.92V-389H285.48V-382.1H285.12V-381H284.76V-384.4H284.4V-382H284.04V-383.5H283.68V-388.4H282.24V-394.9H280.44V-391.5H279.72V-380.5H279.36V-401.9H277.56V-382.5H277.2V-367.5H276.84V-396.3H275.76V-400.6H273.96V-421.4H272.16V-387.6H271.8V-384.1H271.44V-381.3H271.08V-431.5H269.28V-384.7H268.92V-380.4H268.56V-385.2H268.2V-380H267.84V-381.3H267.48V-382.8H267.12V-419H264.96V-384.4H264.6V-389.8H262.8V-381.1H262.44V-366.4H262.08V-438.3H261.36V-447.4H259.2V-408.6H258.12V-383.9H257.76V-439.5H255.6V-403.6H253.8V-381.5H253.08V-400.9H251.28V-429.8H249.84V-397.1H249.12V-392.5H247.68V-383.6H246.96V-368H246.6V-393.2H246.24V-394.4H244.44V-384.9H244.08V-385.1H243.72V-385.6H243.36V-389.9H242.28V-432.7H240.48V-411.8H239.04V-406.1H237.96V-388.2H237.6V-412.8H235.8V-445.7H234V-395.8H233.28V-391.8H232.92V-380H232.56V-399.5H231.48V-434.9H229.68V-386.5H229.32V-385H228.96V-381.2H228.6V-384.8H228.24V-438.9H226.44V-413H225.36V-395.6H224.64V-404.6H223.2V-407.3H221.04V-387H220.68V-402.8H219.6V-423.4H217.8V-439.5H216V-392.6H214.56V-380.9H213.48V-421.5H211.32V-405.4H210.96V-394.9H210.6V-442.9H208.8V-421.4H208.44V-424.1H206.28V-393.2H205.2V-430.4H203.04V-382.1H202.68V-379.6H202.32V-385H201.96V-415H201.6V-453.6H199.08V-415.6H196.92V-387.9H196.2V-366.7H195.84V-385.8H194.76V-421.3H191.88V-396.3H190.8V-381.5H190.44V-460.5H188.64V-425.8H186.12V-417.4H184.68V-404.7H184.32V-394.1H183.96V-385.8H183.6z"/>
    </defs>
    <g clip-path="url(#p44b01c5c57)">
     <use href="#m8ecf6c62fd" x="0" y="576" style="fill: #4c72b0; fill-opacity: 0.5"/>
    </g>
   </g>
   <g id="line2d_41"/>
   <g id="line2d_42">
    <path d="M184.58 261.25L646.3 261.25L647.6 261.03L648.92 261.5L650.24 260.98L651.56 261.55L652.88 260.92L654.14 261.61L655.49 260.87L656.78 261.66L658.1 260.82L659.42 261.72L660.68 260.76L662 261.77L663.32 260.71L664.58 261.82L665.9 260.66L667.15 261.88L668.47 260.6L669.73 261.93L671.05 260.55L672.3 261.98L673.62 260.5L674.88 262.04L676.13 260.44L677.46 262.09L678.71 260.39L679.97 262.14L681.22 260.34L682.48 262.19L683.8 260.29L685.05 262.24L686.31 260.23L687.56 262.3L688.82 260.18L690.07 262.35L691.33 260.13L692.58 262.42L693.84 260.02L695.03 262.54L696.28 259.9L697.54 262.67L698.79 259.77L700.05 262.79L701.23 259.65L702.49 262.92L703.71 259.53L704.93 263.04L706.19 259.4L707.38 263.17L708.63 259.28L709.82 263.29L711.08 259.16L712.26 263.41L713.45 259.04L714.71 263.53L715.9 258.91L717.09 263.65L718.34 258.8L719.53 263.77L720.72 258.67L721.91 263.9L723.1 258.55L724.29 264.01L725.48 258.43L726.67 264.14L727.79 258.3L729.04 264.27L730.23 258.17L731.42 264.4L732.61 258.04L733.8 264.53L734.99 257.92L736.11 264.66L737.3 257.78L738.49 264.79L739.61 257.66L740.8 264.92L741.99 257.53L743.18 265.05L744.3 257.4L745.42 265.18L746.61 257.27L747.73 265.31L748.86 257.15L750.05 265.43L751.17 257.01L752.29 265.55L753.48 256.89L754.6 265.68L755.73 256.76L756.85 265.8L757.97 256.64L759.1 265.92L760.28 256.55L761.41 265.99L762.53 256.48L763.62 266.05L764.71 256.41L765.83 266.13L766.96 256.34L768.08 266.2L769.2 256.28L770.29 266.24L771.38 256.21L772.5 266.33L773.63 256.17L774.68 266.39L775.81 256.09L776.86 266.44L777.99 256.03L779.04 266.51L780.17 255.97L781.22 266.57L782.28 255.92L783.4 266.63L784.46 255.84L785.52 266.68L786.64 255.79L787.7 266.75L788.75 255.72L789.81 266.82L790.87 255.66L791.92 266.87L792.98 255.6L794.04 266.93L795.09 255.56L796.15 266.97L797.21 255.51L798.26 267.01L799.32 255.49L800.31 267.03L801.37 255.44L802.42 267.09L803.48 255.42L804.47 267.13L805.53 255.37L806.52 267.16L807.58 255.32L808.57 267.2L809.62 255.29L810.61 267.24L811.67 255.27L812.66 267.28L813.65 255.21L814.64 267.3L815.7 255.18L816.69 267.36L817.68 255.13L818.67 267.39L819.66 255.1L820.65 267.43L821.65 255.04L822.64 267.5L823.63 254.96L824.62 267.58L825.61 254.89L826.6 267.65L827.59 254.84L828.58 267.7L829.51 254.74L830.5 267.77L831.42 254.69L832.41 267.84L833.4 254.64L834.33 267.9L835.32 254.57L836.24 267.97L837.17 254.49L838.16 268.02L839.08 254.4L840.01 268.06L841 254.34L841.92 268.14L842.85 254.26L843.77 268.19L844.7 254.21L845.62 268.23L846.55 254.16L847.47 268.28L848.4 254.08L849.32 268.36L850.25 254L851.17 268.43L852.1 253.93L853.02 268.46L853.88 253.88L854.8 268.54L855.73 253.82L856.59 268.59L857.51 253.73L858.37 268.63L859.29 253.67L860.15 268.7L861.08 253.62L861.94 268.76L862.8 253.56L863.72 268.79L864.58 253.45L865.44 268.92L866.3 253.33L867.15 269.01L868.01 253.24L868.94 269.11L869.73 253.11L870.59 269.22L871.45 252.97L872.31 269.37L873.17 252.81L874.02 269.5L874.88 252.7L875.68 269.57L876.53 252.55L877.39 269.71L878.19 252.45L879.04 269.83L879.84 252.34L880.7 269.94L881.49 252.2L882.35 270.02L883.14 252.06L883.93 270.13L884.79 251.99L885.58 270.26L886.38 251.81L887.17 270.37L887.96 251.71L888.75 270.46L889.55 251.6L890.34 270.56L891.13 251.46L891.92 270.68L892.72 251.35L893.51 270.76L894.24 251.25L895.03 270.93L895.82 251.06L896.55 271.02L897.34 250.89L898.07 271.12L898.86 250.75L899.59 271.28L900.38 250.62L901.11 271.47L901.83 250.55L902.62 271.58L903.35 250.31L904.08 271.74L904.8 250.2L905.53 271.83L906.26 250.09L906.98 271.95L907.71 249.94L908.44 272.11L909.1 249.75L909.89 272.26L910.62 249.67L911.28 272.32L912 249.48L912.73 272.46L913.39 249.38L914.12 272.62L914.78 249.25L915.5 272.72L916.16 249.08L916.83 272.77L917.55 248.98L918.21 273L918.87 248.84L919.53 273.05L920.19 248.83L920.92 273.12L921.58 248.68L922.24 273.22L922.84 248.55L923.5 273.42L924.16 248.32L924.82 273.58L925.48 248.29L926.07 273.65L926.73 248.07L927.33 273.66L927.99 247.94L928.58 273.77L929.24 247.82L929.84 273.99L930.5 247.83L931.09 274.14L931.69 247.57L932.28 274.22L932.88 247.55L933.47 274.28L934.06 247.36L934.66 274.55L935.25 247.01L935.85 274.91L936.44 246.65L937.04 275.12L937.57 246.55L938.16 275.44L938.75 246.22L939.28 275.65L939.88 245.95L940.41 275.92L940.93 245.86L941.53 276.14L942.06 245.34L942.59 276.31L943.11 245.33L943.71 276.42L944.24 245.01L944.76 276.68L945.29 244.86L945.76 276.88L946.28 244.41L946.81 277.33L947.34 244.22L947.8 277.37L948.33 243.86L948.79 277.42L949.32 243.63L949.78 277.76L950.31 243.51L950.78 278.19L951.24 243.3L951.7 278.06L952.23 243.29L952.69 278.36L953.15 242.94L953.62 278.61L954.01 242.6L954.47 279.27L954.94 241.77L955.4 279.58L955.8 241.53L956.26 280.16L956.65 241.19L957.12 280.49L957.51 240.53L957.91 280.52L958.37 240.35L958.77 281.31L959.16 239.67L959.56 281.75L959.96 239.27L960.35 282.03L960.75 239.26L961.08 281.94L961.48 238.53L961.87 282.55L962.2 238.38L962.6 282.89L962.93 237.8L963.26 282.8L963.66 237.3L963.99 284.24L964.32 236.21L964.65 284.9L964.98 235.48L965.31 285.38L965.64 235.49L965.9 285.33L966.23 234.09L966.56 285.4L966.83 233.44L967.09 285.98L967.42 233.4L967.68 287.61L967.95 232.11L968.21 288.36L968.48 231.02L968.74 289.38L969.01 230.76L969.2 288.54L969.47 228.9L969.67 288.29L969.93 228.19L970.13 291.49L970.39 229.17L970.52 289.45L970.72 229.64L970.92 291.88L971.12 224.6L971.32 292.7L971.45 223.98L971.65 291.69L971.8 215.92L971.97 298.65L972.14 207.42L972.31 308.85L972.48 200.06L972.65 306.58L972.82 230.09L973.02 278.25L973.22 252.75L973.49 264.65L973.76 260.12L974.24 261.25L996.22 261.25" clip-path="url(#p44b01c5c57)" style="fill: none; stroke: #dd8452; stroke-opacity: 0.5; stroke-width: 1.5; stroke-linecap: round"/>
   </g>
   <g id="patch_3">
    <path d="M 144 512.64 L 144 69.12" style="fill: none; stroke: #ffffff; stroke-width: 1.25; stroke-linejoin: miter; stroke-linecap: square"/>
   </g>
   <g id="patch_4">
    <path d="M 1036.8 512.64 L 1036.8 69.12" style="fill: none; stroke: #ffffff; stroke-width: 1.25; stroke-linejoin: miter; stroke-linecap: square"/>
   </g>
   <g id="patch_5">
    <path d="M 144 512.64 L 1036.8 512.64" style="fill: none; stroke: #ffffff; stroke-width: 1.25; stroke-linejoin: miter; stroke-linecap: square"/>
   </g>
   <g id="patch_6">
    <path d="M 144 69.12 L 1036.8 69.12" style="fill: none; stroke: #ffffff; stroke-width: 1.25; stroke-linejoin: miter; stroke-linecap: square"/>
   </g>
   <g id="text_35">
    <text x="590.4" y="63.12" font-size="12" text-anchor="middle">stats at each timestep for test data 15605 [signal=1]</text>
   </g>
  </g>
  <g id="axes_2">
   <g id="matplotlib.axis_3">
    <g id="ytick_9">
     <path d="M 144 449.64 L 1036.8 449.64" clip-path="url(#p44b01c5c57)" style="fill: none; stroke: #ffffff; stroke-linecap: round"/>
     <g id="line2d_44">
      <defs>
       <path id="m83cedf2c6c" d="M 0 0 L 6 0" style="stroke: #262626; stroke-width: 1.25"/>
      </defs>
      <g>
       <use href="#m83cedf2c6c" x="1036.8000" y="449.2800" style="fill: #262626; stroke: #262626; stroke-width: 1.25"/>
      </g>
     </g>
     <text x="1046.3" y="453.46" font-size="11">0.0</text>
    </g>
    <g id="ytick_10">
     <path d="M 144 417.96 L 1036.8 417.96" clip-path="url(#p44b01c5c57)" style="fill: none; stroke: #ffffff; stroke-linecap: round"/>
     <g><use href="#m83cedf2c6c" x="1036.8000" y="417.6000" style="fill: #262626; stroke: #262626; stroke-width: 1.25"/></g>
     <text x="1046.3" y="421.78" font-size="11">0.1</text>
    </g>
    <g id="ytick_11">
     <path d="M 144 386.28 L 1036.8 386.28" clip-path="url(#p44b01c5c57)" style="fill: none; stroke: #ffffff; stroke-linecap: round"/>
     <g><use href="#m83cedf2c6c" x="1036.8000" y="385.9200" style="fill: #262626; stroke: #262626; stroke-width: 1.25"/></g>
     <text x="1046.3" y="390.1" font-size="11">0.2</text>
    </g>
    <g id="ytick_12">
     <path d="M 144 354.6 L 1036.8 354.6" clip-path="url(#p44b01c5c57)" style="fill: none; stroke: #ffffff; stroke-linecap: round"/>
     <g><use href="#m83cedf2c6c" x="1036.8000" y="354.2400" style="fill: #262626; stroke: #262626; stroke-width: 1.25"/></g>
     <text x="1046.3" y="358.42" font-size="11">0.3</text>
    </g>
    <g id="ytick_13">
     <path d="M 144 322.92 L 1036.8 322.92" clip-path="url(#p44b01c5c57)" style="fill: none; stroke: #ffffff; stroke-linecap: round"/>
     <g><use href="#m83cedf2c6c" x="1036.8000" y="322.5600" style="fill: #262626; stroke: #262626; stroke-width: 1.25"/></g>
     <text x="1046.3" y="326.74" font-size="11">0.4</text>
    </g>
    <g id="ytick_14">
     <path d="M 144 291.24 L 1036.8 291.24" clip-path="url(#p44b01c5c57)" style="fill: none; stroke: #ffffff; stroke-linecap: round"/>
     <g><use href="#m83cedf2c6c" x="1036.8000" y="290.8800" style="fill: #262626; stroke: #262626; stroke-width: 1.25"/></g>
     <text x="1046.3" y="295.06" font-size="11">0.5</text>
    </g>
    <g id="ytick_15">
     <path d="M 144 259.56 L 1036.8 259.56" clip-path="url(#p44b01c5c57)" style="fill: none; stroke: #ffffff; stroke-linecap: round"/>
     <g><use href="#m83cedf2c6c" x="1036.8000" y="259.2000" style="fill: #262626; stroke: #262626; stroke-width: 1.25"/></g>
     <text x="1046.3" y="263.38" font-size="11">0.6</text>
    </g>
    <g id="ytick_16">
     <path d="M 144 227.88 L 1036.8 227.88" clip-path="url(#p44b01c5c57)" style="fill: none; stroke: #ffffff; stroke-linecap: round"/>
     <g><use href="#m83cedf2c6c" x="1036.8000" y="227.5200" style="fill: #262626; stroke: #262626; stroke-width: 1.25"/></g>
     <text x="1046.3" y="231.7" font-size="11">0.7</text>
    </g>
    <g id="ytick_17">
     <path d="M 144 196.2 L 1036.8 196.2" clip-path="url(#p44b01c5c57)" style="fill: none; stroke: #ffffff; stroke-linecap: round"/>
     <g><use href="#m83cedf2c6c" x="1036.8000" y="195.8400" style="fill: #262626; stroke: #262626; stroke-width: 1.25"/></g>
     <text x="1046.3" y="200.02" font-size="11">0.8</text>
    </g>
    <g id="ytick_18">
     <path d="M 144 164.52 L 1036.8 164.52" clip-path="url(#p44b01c5c57)" style="fill: none; stroke: #ffffff; stroke-linecap: round"/>
     <g><use href="#m83cedf2c6c" x="1036.8000" y="164.1600" style="fill: #262626; stroke: #262626; stroke-width: 1.25"/></g>
     <text x="1046.3" y="168.34" font-size="11">0.9</text>
    </g>
    <g id="ytick_19">
     <path d="M 144 132.84 L 1036.8 132.84" clip-path="url(#p44b01c5c57)" style="fill: none; stroke: #ffffff; stroke-linecap: round"/>
     <g><use href="#m83cedf2c6c" x="1036.8000" y="132.4800" style="fill: #262626; stroke: #262626; stroke-width: 1.25"/></g>
     <text x="1046.3" y="136.66" font-size="11">1.0</text>
    </g>
    <g id="ytick_20">
     <path d="M 144 101.16 L 1036.8 101.16" clip-path="url(#p44b01c5c57)" style="fill: none; stroke: #ffffff; stroke-linecap: round"/>
     <g><use href="#m83cedf2c6c" x="1036.8000" y="100.8000" style="fill: #262626; stroke: #262626; stroke-width: 1.25"/></g>
     <text x="1046.3" y="104.98" font-size="11">1.1</text>
    </g>
    <g id="text_48">
     <text font-size="12" text-anchor="middle" transform="translate(1076.91 290.88) rotate(-90)">Detection probability/MF</text>
    </g>
   </g>
   <g id="line2d_67">
    <path d="M 184.582 365.645 
L 188.809 402.71 
L 193.036 439.776 
L 197.264 446.375 
L 201.491 446.07 
L 205.718 444.546 
L 209.945 446.775 
L 214.173 448.587 
L 218.4 449.093 
L 222.627 448.754 
L 226.855 448.444 
L 231.082 448.726 
L 235.309 449.007 
L 239.536 448.958 
L 243.764 448.747 
L 247.991 448.585 
L 252.218 448.796 
L 256.445 449.007 
L 260.673 448.982 
L 264.9 448.77 
L 269.127 448.56 
L 273.355 448.56 
L 277.582 448.517 
L 281.809 448.033 
L 286.036 447.069 
L 290.264 446.704 
L 294.491 447.308 
L 298.718 447.742 
L 302.945 446.902 
L 307.173 445.211 
L 311.4 444.407 
L 315.627 445.158 
L 319.855 445.871 
L 324.082 446.233 
L 328.309 446.137 
L 332.536 445.784 
L 336.764 445.136 
L 340.991 444.229 
L 345.218 444.223 
L 349.445 445.188 
L 353.673 445.821 
L 357.9 444.815 
L 362.127 442.158 
L 366.355 439.394 
L 370.582 440.585 
L 374.809 442.88 
L 379.036 444.609 
L 383.264 444.898 
L 387.491 444.037 
L 391.718 443.019 
L 395.945 443.168 
L 400.173 444.031 
L 404.4 444.837 
L 408.627 445.424 
L 412.855 444.895 
L 417.082 444.059 
L 421.309 443.167 
L 425.536 443.471 
L 429.764 444.075 
L 433.991 443.761 
L 438.218 442.762 
L 442.445 442.004 
L 446.673 442.591 
L 450.9 443.835 
L 455.127 444.86 
L 459.355 445.239 
L 463.582 445.32 
L 467.809 445.32 
L 472.036 445.607 
L 476.264 445.887 
L 480.491 445.992 
L 484.718 445.03 
L 488.945 443.819 
L 493.173 443.678 
L 497.4 444.799 
L 501.627 445.872 
L 505.855 446.355 
L 510.082 446.528 
L 514.309 447.036 
L 518.536 447.664 
L 522.764 447.696 
L 526.991 444.211 
L 531.218 404.136 
L 535.445 305.136 
L 539.673 314.957 
L 543.9 364.378 
L 548.127 409.997 
L 552.355 427.738 
L 556.582 435.341 
L 560.809 438.826 
L 565.036 441.043 
L 569.264 441.774 
L 573.491 443.215 
L 577.718 444.797 
L 581.945 445.655 
L 586.173 445.552 
L 590.4 444.253 
L 594.627 442.629 
L 598.855 442.443 
L 603.082 443.602 
L 607.309 444.567 
L 611.536 443.284 
L 615.764 437.838 
L 619.991 425.488 
L 624.218 415.171 
L 628.445 416.572 
L 632.673 425.349 
L 636.9 434.223 
L 641.127 439.609 
L 645.355 442.077 
L 649.582 441.516 
L 653.809 439.318 
L 658.036 437.779 
L 662.264 438.368 
L 666.491 439.05 
L 670.718 436.353 
L 674.945 428.672 
L 679.173 418.261 
L 683.4 414.01 
L 687.627 419.152 
L 691.855 428.16 
L 696.082 435.861 
L 700.309 441.032 
L 704.536 443.192 
L 708.764 443.635 
L 712.991 443.526 
L 717.218 443.389 
L 721.445 443.517 
L 725.673 443.261 
L 729.9 442.336 
L 734.127 440.194 
L 738.355 436.916 
L 742.582 432.599 
L 746.809 428.104 
L 751.036 426.577 
L 755.264 429.372 
L 759.491 435.001 
L 763.718 439.91 
L 767.945 442.612 
L 772.173 442.973 
L 776.4 441.696 
L 780.627 440.205 
L 784.855 439.491 
L 789.082 440.388 
L 793.309 441.963 
L 797.536 443.004 
L 801.764 442.999 
L 805.991 440.514 
L 810.218 435.512 
L 814.445 432.086 
L 818.673 435.273 
L 822.9 441.397 
L 827.127 444.928 
L 831.355 446.098 
L 835.582 445.629 
L 839.809 442.913 
L 844.036 438.707 
L 848.264 435.76 
L 852.491 434.823 
L 856.718 434.277 
L 860.945 433.734 
L 865.173 434.38 
L 869.4 436.576 
L 873.627 438.432 
L 877.855 437.353 
L 882.082 433.329 
L 886.309 430.5 
L 890.536 432.764 
L 894.764 436.723 
L 898.991 438.585 
L 903.218 438.914 
L 907.445 439.529 
L 911.673 440.895 
L 915.9 441.916 
L 920.127 440.005 
L 924.355 432.011 
L 928.582 419.269 
L 932.809 415.813 
L 937.036 425.817 
L 941.264 432.778 
L 945.491 423.01 
L 949.718 341.568 
L 953.945 229.104 
L 958.173 210.096 
L 962.4 244.944 
L 966.627 277.574 
L 970.855 254.131 
L 975.082 185.386 
L 979.309 139.133 
L 983.536 132.163 
L 987.764 138.182 
L 991.991 154.022 
" clip-path="url(#p44b01c5c57)" style="fill: none; stroke: #55a868; stroke-width: 1.5; stroke-linecap: round"/>
   </g>
   <g id="LineCollection_1">
    <path d="M 974.88 449.28 L 974.88 132.48" clip-path="url(#p44b01c5c57)" style="fill: none; stroke: #1a1a1a; stroke-opacity: 0.6; stroke-width: 1.5"/>
    <path d="M 987.84 449.28 L 987.84 132.48" clip-path="url(#p44b01c5c57)" style="fill: none; stroke: #1a1a1a; stroke-opacity: 0.6; stroke-width: 1.5"/>
   </g>
   <g id="patch_7">
    <path d="M 144 512.64 L 144 69.12" style="fill: none; stroke: #ffffff; stroke-width: 1.25; stroke-linejoin: miter; stroke-linecap: square"/>
   </g>
   <g id="patch_8">
    <path d="M 1036.8 512.64 L 1036.8 69.12" style="fill: none; stroke: #ffffff; stroke-width: 1.25; stroke-linejoin: miter; stroke-linecap: square"/>
   </g>
   <g id="patch_9">
    <path d="M 144 512.64 L 1036.8 512.64" style="fill: none; stroke: #ffffff; stroke-width: 1.25; stroke-linejoin: miter; stroke-linecap: square"/>
   </g>
   <g id="patch_10">
    <path d="M 144 69.12 L 1036.8 69.12" style="fill: none; stroke: #ffffff; stroke-width: 1.25; stroke-linejoin: miter; stroke-linecap: square"/>
   </g>
   <g id="text_49">
    <text x="198.11" y="132.48" font-size="15">SNR_opt=10.08</text>
   </g>
   <g id="text_50">
    <text x="360.44" y="132.48" font-size="15"><tspan font-style="italic">SNR</tspan><tspan font-style="italic" font-size="10.5" dy="2.5">M</tspan><tspan font-style="italic" dy="-2.5">F</tspan>=[9.88]</text>
   </g>
   <g id="text_51">
    <text x="563.35" y="132.48" font-size="15"><tspan font-style="italic">S</tspan>=0.95</text>
   </g>
   <g id="text_52">
    <text x="630.98" y="132.48" font-size="15"><tspan font-style="italic">M</tspan><tspan font-style="italic" font-size="10.5" dy="2.5">c</tspan><tspan dy="-2.5">=6.65</tspan></text>
   </g>
  </g>
  <g id="legend_1">
   <g id="patch_11">
    <path d="M 232.946 518.746 
L 353.928 518.746 
Q 356.128 518.746 356.128 516.546 
L 356.128 469.208 
Q 356.128 467.008 353.928 467.008 
L 232.946 467.008 
Q 230.746 467.008 230.746 469.208 
L 230.746 516.546 
Q 230.746 518.746 232.946 518.746 
z
" style="fill: #eaeaf2; opacity: 0.8; stroke: #cccccc; stroke-linejoin: miter"/>
   </g>
   <g id="line2d_68">
    <path d="M 235.146 475.2 L 246.146 475.2 L 257.146 475.2" style="fill: none; stroke: #4c72b0; stroke-opacity: 0.5; stroke-width: 1.5; stroke-linecap: round"/>
   </g>
   <g id="text_53">
    <text x="265.95" y="479.05" font-size="11">signal+ noise</text>
   </g>
   <g id="line2d_69">
    <path d="M 235.146 491.76 L 246.146 491.76 L 257.146 491.76" style="fill: none; stroke: #dd8452; stroke-opacity: 0.5; stroke-width: 1.5; stroke-linecap: round"/>
   </g>
   <g id="text_54">
    <text x="265.95" y="495.62" font-size="11">signal only</text>
   </g>
   <g id="line2d_70">
    <path d="M 235.146 508.32 L 246.146 508.32 L 257.146 508.32" style="fill: none; stroke: #55a868; stroke-width: 1.5; stroke-linecap: round"/>
   </g>
   <g id="text_55">
    <text x="265.95" y="512.06" font-size="11">signal statistics</text>
   </g>
  </g>
 </g>
 <defs>
  <clipPath id="p44b01c5c57">
   <rect x="144" y="69.12" width="892.8" height="443.52"/>
  </clipPath>
 </defs>
</svg>

</body></html>
